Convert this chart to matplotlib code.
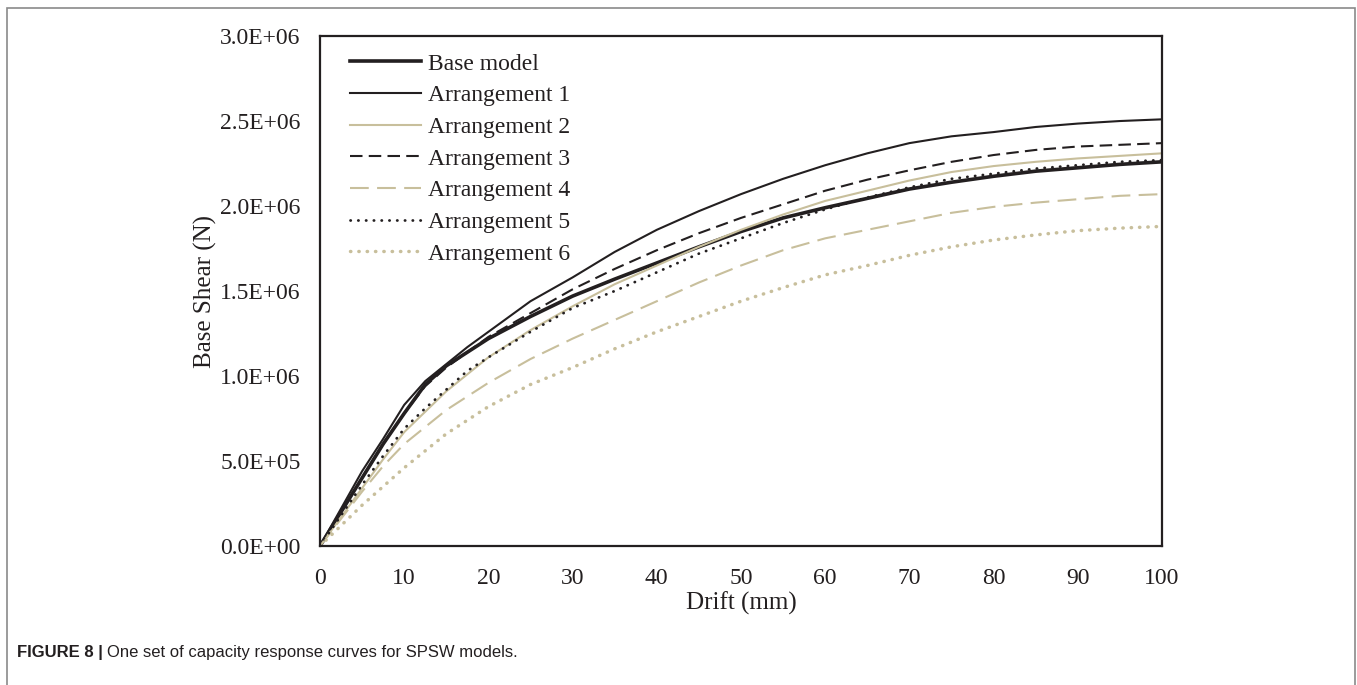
import numpy as np
import matplotlib.pyplot as plt
from matplotlib.patches import Rectangle

# Drift (mm) and base shear (x1e6 N)
drift = [0, 2.5, 5, 7.5, 10, 12.5, 15, 17.5, 20, 25, 30, 35, 40, 45, 50,
         55, 60, 65, 70, 75, 80, 85, 90, 95, 100]

base_model = [0, 0.20, 0.40, 0.60, 0.78, 0.95, 1.06, 1.14, 1.22, 1.35, 1.47, 1.57, 1.665,
              1.76, 1.85, 1.93, 1.99, 2.045, 2.10, 2.14, 2.175, 2.205, 2.225, 2.245, 2.26]
arr1 = [0, 0.22, 0.44, 0.63, 0.83, 0.97, 1.07, 1.17, 1.26, 1.44, 1.58, 1.73, 1.86,
        1.97, 2.07, 2.16, 2.24, 2.31, 2.37, 2.41, 2.435, 2.465, 2.485, 2.50, 2.51]
arr2 = [0, 0.17, 0.34, 0.51, 0.67, 0.79, 0.91, 1.01, 1.11, 1.27, 1.41, 1.54, 1.65,
        1.76, 1.86, 1.95, 2.03, 2.09, 2.15, 2.20, 2.235, 2.26, 2.28, 2.295, 2.31]
arr3 = [0, 0.20, 0.40, 0.60, 0.78, 0.94, 1.05, 1.14, 1.23, 1.37, 1.51, 1.63, 1.74,
        1.84, 1.93, 2.01, 2.09, 2.155, 2.21, 2.26, 2.30, 2.33, 2.35, 2.36, 2.37]
arr4 = [0, 0.16, 0.32, 0.47, 0.60, 0.70, 0.80, 0.88, 0.96, 1.10, 1.22, 1.33, 1.44,
        1.55, 1.65, 1.74, 1.81, 1.86, 1.91, 1.96, 1.995, 2.02, 2.04, 2.06, 2.07]
arr5 = [0, 0.18, 0.36, 0.53, 0.69, 0.81, 0.92, 1.03, 1.11, 1.26, 1.40, 1.50, 1.61,
        1.72, 1.81, 1.90, 1.98, 2.05, 2.11, 2.16, 2.19, 2.22, 2.24, 2.26, 2.27]
arr6 = [0, 0.12, 0.24, 0.35, 0.46, 0.56, 0.66, 0.74, 0.82, 0.95, 1.05, 1.16, 1.26,
        1.35, 1.44, 1.52, 1.595, 1.65, 1.71, 1.76, 1.80, 1.83, 1.855, 1.87, 1.88]

labels = ['Base model', 'Arrangement 1', 'Arrangement 2', 'Arrangement 3',
          'Arrangement 4', 'Arrangement 5', 'Arrangement 6']
series = [base_model, arr1, arr2, arr3, arr4, arr5, arr6]

dark = '#231f20'
tan = '#c8bf9c'
styles = [
    dict(color=dark, lw=2.6, ls='-'),
    dict(color=dark, lw=1.5, ls='-'),
    dict(color=tan, lw=1.5, ls='-'),
    dict(color=dark, lw=1.5, ls=(0, (6, 3))),
    dict(color=tan, lw=1.5, ls=(0, (9, 4))),
    dict(color=dark, lw=2.0, ls=(0, (0.1, 2.7)), dash_capstyle='round'),
    dict(color=tan, lw=2.5, ls=(0, (0.1, 2.3)), dash_capstyle='round'),
]

plt.rcParams['font.family'] = ['Liberation Serif', 'DejaVu Serif']

fig = plt.figure(figsize=(13.57, 6.85), dpi=100)
ax = fig.add_axes([0.2358, 0.2029, 0.6205, 0.7445])

for vals, lab, st in zip(series, labels, styles):
    ax.plot(drift, np.array(vals) * 1e6, label=lab, **st)

ax.set_xlim(0, 100)
ax.set_ylim(0, 3.0e6)
ax.set_xticks(np.arange(0, 101, 10))
yt = np.arange(0, 3.01e6, 0.5e6)
ax.set_yticks(yt)
ax.set_yticklabels([f'{v:.1E}' for v in yt])
ax.tick_params(length=0, labelsize=17, colors=dark)
ax.tick_params(axis='x', pad=16)
ax.tick_params(axis='y', pad=14)
for s in ax.spines.values():
    s.set_color(dark)
    s.set_linewidth(1.6)

ax.set_xlabel('Drift (mm)', fontsize=18, color=dark, labelpad=2)
ax.set_ylabel('Base Shear (N)', fontsize=18, color=dark, labelpad=2)

ax.legend(loc='upper left', frameon=False, fontsize=17, handlelength=3.0,
          handletextpad=0.3, labelspacing=0.43, borderaxespad=0.0,
          bbox_to_anchor=(0.025, 0.985), labelcolor=dark)

# outer gray frame of the figure panel
fig.patches.append(Rectangle((7 / 1357, -0.05), 1348 / 1357, 0.05 + (685 - 8) / 685,
                             transform=fig.transFigure, fill=False,
                             edgecolor='#8a8a8a', lw=1.2))

cap_font = ['Liberation Sans Narrow', 'Liberation Sans', 'DejaVu Sans']
t1 = fig.text(17 / 1357, 1 - 652 / 685, 'FIGURE 8 |', fontsize=12, fontweight='bold',
              family=cap_font, color=dark, va='center')
fig.canvas.draw()
bb = t1.get_window_extent()
fig.text(bb.x1 / fig.bbox.width + 0.003, 1 - 652 / 685,
         'One set of capacity response curves for SPSW models.', fontsize=12,
         family=cap_font, color=dark, va='center')

fig.savefig('out.png', dpi=100)
